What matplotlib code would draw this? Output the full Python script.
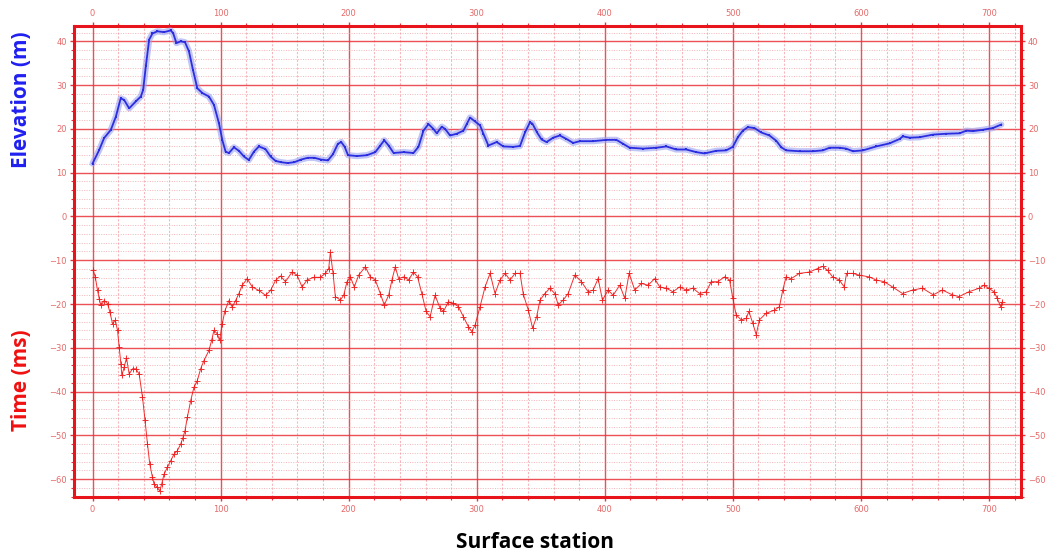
import matplotlib
matplotlib.use("Agg")
import matplotlib.pyplot as plt
from matplotlib.ticker import MultipleLocator

# Surface elevation along the line (station, metres)
elev_station = [0, 5.2, 9, 14.3, 18.2, 22, 24.7, 28.6, 33.8, 37.7, 39.5, 41.6, 44.2, 46.8,
                50.6, 55.8, 61, 62.9, 65.5, 68.8, 72.2, 75.3, 78.4, 81.8, 85.7, 90.9, 94.8,
                98.7, 101.3, 103.9, 106.5, 110.4, 114.3, 118.2, 122, 126, 129.9, 135, 139,
                142.9, 147.1, 152.4, 157.6, 162.8, 168, 173.3, 178.5, 183.8, 187.7, 191.6,
                194.2, 196.9, 199.5, 206.5, 214.3, 220.8, 224.7, 227.8, 231.2, 235.1, 242.9,
                250.6, 254.5, 258.4, 262.3, 266.2, 268.8, 272.7, 275.3, 279.2, 284.4, 289.6,
                292.2, 294.8, 298.7, 302.6, 305.2, 309.1, 315.6, 320.8, 328.6, 333.8, 337.7,
                341.6, 343.5, 347.1, 350.6, 354.5, 359.7, 364.9, 370.1, 375.3, 380.5, 390.9,
                401.3, 409.1, 414.3, 419.5, 429.9, 440.3, 448.1, 455.8, 463.6, 471.4, 477.9,
                487, 494.8, 500, 503.9, 507.8, 511.7, 516.9, 522.1, 528.6, 533.9, 537.8,
                541.7, 552.1, 562.5, 570.3, 575.5, 583.3, 588.5, 593.8, 601.6, 612, 622.4,
                630.2, 632.8, 638, 645.8, 656.3, 666.7, 677.1, 682.3, 687.5, 695.3, 703.1,
                709.6]
elev_value = [12.1, 15.2, 17.9, 19.8, 22.8, 27.0, 26.6, 24.7, 26.3, 27.4, 28.9, 34.3, 40.4, 41.8,
              42.3, 42.1, 42.5, 41.9, 39.6, 40.0, 39.8, 37.7, 33.5, 29.3, 28.2, 27.4, 25.5,
              21.3, 17.5, 14.8, 14.5, 15.8, 15.0, 13.7, 12.9, 14.8, 16.0, 15.4, 13.7,
              12.7, 12.4, 12.2, 12.4, 13.0, 13.4, 13.4, 13.0, 12.8, 14.2, 16.6,
              17.0, 15.9, 14.0, 13.8, 14.0, 14.7, 16.2, 17.4, 16.2, 14.5, 14.7,
              14.5, 15.9, 19.6, 21.1, 20.0, 19.0, 20.5, 20.0, 18.5, 18.9, 19.6,
              21.1, 22.6, 21.7, 20.8, 18.9, 16.2, 17.0, 16.0, 15.9, 16.1, 19.2,
              21.5, 21.2, 19.2, 17.6, 17.0, 18.0, 18.5, 17.7, 16.8, 17.2, 17.2,
              17.5, 17.5, 16.6, 15.7, 15.5, 15.7, 16.0, 15.3, 15.3, 14.7, 14.4,
              15.0, 15.1, 15.9, 18.1, 19.6, 20.4, 20.2, 19.2, 18.5, 17.3, 15.8,
              15.1, 14.9, 14.9, 15.1, 15.7, 15.7, 15.5, 14.9, 15.1, 16.0, 16.7,
              17.7, 18.3, 18.0, 18.1, 18.7, 18.9, 19.0, 19.6, 19.5, 19.8, 20.2,
              21.0]

# Picked travel time along the line (station, ms)
time_station = [0.5, 2.1, 3.9, 5.2, 6.5, 9.1, 11.7, 13.5, 15.6, 17.7, 19.5, 20.8, 22.1, 22.9,
                24.7, 26.5, 28.6, 31.2, 33.8, 36.4, 39, 41, 42.9, 44.7, 46.8, 48, 50.6, 52.5,
                54, 55.8, 58.4, 61, 63.6, 66.2, 68.8, 70.6, 72.2, 74, 76.6, 79.2, 81.8, 84.4,
                87, 90.9, 93, 94.8, 97.4, 99.2, 101.3, 103.4, 106.5, 109.1, 111.7, 114.3,
                116.9, 120.8, 124.7, 129.9, 135.1, 139, 142.9, 146.8, 150.6, 155.8, 159.7,
                163.6, 167.5, 172.7, 177.9, 181.8, 184.4, 185.7, 187.8, 189.6, 193.5, 196.1,
                198.7, 201.3, 204.4, 207.8, 213, 216.9, 220.8, 224.7, 227.8, 231.2, 233.8,
                236.4, 239, 242.9, 246.8, 250.6, 253.8, 257.1, 260.5, 263.6, 267.5, 271.4,
                274, 277.9, 281.8, 285.7, 289.6, 293.5, 296.1, 298.7, 302.6, 306.5, 310.4,
                314.3, 318.2, 322.1, 326, 329.9, 333.8, 336.4, 340.3, 343.6, 346.8, 349.4,
                353.2, 357.1, 361, 363.6, 367.5, 371.4, 376.6, 381.8, 387, 390.9, 394.8,
                398.2, 402.6, 406.5, 411.7, 415.6, 419, 423.4, 428.6, 433.8, 439, 442.9,
                448.1, 453.2, 458.4, 463.6, 468.8, 474, 479.2, 483.1, 488.3, 493.5, 497.4,
                500, 502.6, 506.5, 510.4, 512.5, 515.6, 518.2, 520.8, 526, 532.5, 536.4,
                539, 541.6, 545.5, 552, 559.7, 566.2, 570.1, 574, 577.9, 583.1, 587, 588.8,
                593.5, 598.7, 606.5, 611.7, 618.2, 624.7, 632.5, 640.3, 648.1, 656.5, 663.6,
                671.4, 676.6, 684.4, 692.2, 696.1, 700, 703.9, 706.5, 709.1, 710.4]
time_value = [-12.3, -13.8, -16.9, -18.8, -20.3, -19.2, -19.9, -21.8, -24.5, -23.7, -26.0, -29.8,
              -33.7, -36.3, -34.4, -32.3, -36.0, -34.8, -34.8, -36.0, -41.3, -46.6, -52.0,
              -56.6, -59.6, -61.1, -61.9, -62.7, -61.1, -58.9, -57.3, -55.8, -54.3, -53.5,
              -52.0, -50.5, -48.9, -45.9, -42.1, -39.0, -37.5, -34.8, -32.9, -30.6, -28.3,
              -26.0, -26.8, -28.3, -24.5, -21.5, -19.2, -20.7, -19.2, -17.6, -15.7, -14.2,
              -16.1, -16.9, -18.0, -16.9, -14.6, -13.6, -14.9, -12.7, -13.4, -16.1, -14.5,
              -13.9, -13.9, -13.0, -11.9, -8.2, -13.0, -18.3, -19.1, -18.0, -14.9, -13.8,
              -16.1, -13.4, -11.5, -13.8, -14.5, -17.6, -20.2, -18.0, -14.5, -11.5, -14.2,
              -13.8, -14.5, -12.7, -13.8, -17.6, -21.7, -22.9, -18.0, -21.0, -21.7, -19.5,
              -19.8, -20.6, -22.9, -25.2, -26.3, -24.8, -20.6, -16.1, -13.0, -17.6, -14.5,
              -13.0, -14.5, -13.0, -13.0, -17.8, -21.4, -25.5, -22.9, -19.1, -17.6, -16.4,
              -17.6, -20.2, -19.1, -17.6, -13.4, -14.9, -17.2, -16.8, -14.2, -19.1, -16.8,
              -18.0, -15.7, -18.7, -13.0, -16.8, -15.3, -15.7, -14.2, -16.1, -16.4, -17.2,
              -16.1, -16.8, -16.4, -17.6, -17.2, -14.9, -14.9, -13.8, -14.5, -18.7, -22.5,
              -23.6, -23.3, -21.7, -24.4, -27.0, -23.6, -22.1, -21.4, -20.6, -16.8, -13.8,
              -14.2, -13.0, -12.7, -11.9, -11.4, -12.3, -13.8, -14.5, -16.1, -13.0, -13.0,
              -13.4, -13.8, -14.5, -14.9, -16.1, -17.6, -16.8, -16.4, -17.9, -16.8, -17.9,
              -18.3, -17.2, -16.4, -15.7, -16.4, -17.2, -18.7, -20.6, -19.5]

x_labels = [0, 100, 200, 300, 400, 500, 600, 700]
y_labels = [-60, -50, -40, -30, -20, -10, 0, 10, 20, 30, 40]

grid_red = "#e8333a"
label_red = "#e46a6a"

fig = plt.figure(figsize=(10.45, 5.54), dpi=100)
ax = fig.add_axes([0.0708, 0.1035, 0.9062, 0.8495])

ax.set_xlim(-14.5, 725)
ax.set_ylim(-64, 43.5)

ax.set_xticks(x_labels)
ax.set_yticks(y_labels)
ax.xaxis.set_minor_locator(MultipleLocator(20))
ax.yaxis.set_minor_locator(MultipleLocator(2))

ax.grid(which="major", color=grid_red, linewidth=1.0, alpha=0.85)
ax.grid(which="minor", axis="x", color="#f08a8f", linewidth=0.8, linestyle=(0, (2, 1.5)), alpha=0.6)
ax.grid(which="minor", axis="y", color="#f29a9e", linewidth=0.7, linestyle=(0, (1, 1.5)), alpha=0.75)
ax.set_axisbelow(True)

for sp in ax.spines.values():
    sp.set_color("#e8141c")
    sp.set_linewidth(2.2)

ax.tick_params(which="both", direction="out", colors=grid_red, labelcolor=label_red,
               top=True, right=True, labeltop=True, labelright=True, labelsize=6)
ax.tick_params(which="major", length=3, width=1.0, pad=3)
ax.tick_params(which="minor", length=2.5, width=0.8)
ax.tick_params(axis="y", which="major", pad=2)

# Elevation: soft halo under a dotted blue trace
ax.plot(elev_station, elev_value, color="#9aa0f0", linewidth=4.5, alpha=0.6,
        solid_capstyle="round", zorder=3)
ax.plot(elev_station, elev_value, color="#2b2ee0", linewidth=1.3, marker="s",
        markersize=1.8, markeredgewidth=0, zorder=4)

# Travel times: thin red line with cross markers
ax.plot(time_station, time_value, color="#f01818", linewidth=0.7, marker="+",
        markersize=5, markeredgewidth=0.7, alpha=0.9, zorder=4)

fig.text(0.021, 0.82, "Elevation (m)", rotation=90, color="#1f1ff0", fontsize=15,
         fontweight="bold", family="Open Sans", ha="center", va="center")
fig.text(0.021, 0.313, "Time (ms)", rotation=90, color="#f01010", fontsize=15,
         fontweight="bold", family="Open Sans", ha="center", va="center")
fig.text(0.512, 0.02, "Surface station", color="black", fontsize=15,
         fontweight="bold", family="Open Sans", ha="center", va="center")

fig.savefig("out.png", dpi=100)
